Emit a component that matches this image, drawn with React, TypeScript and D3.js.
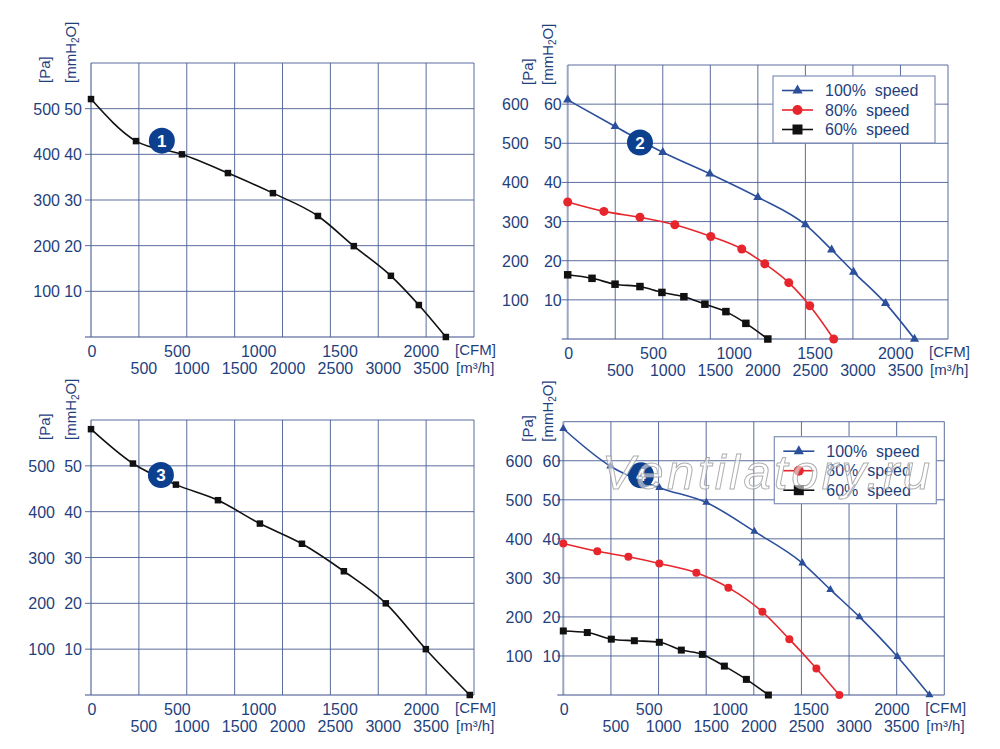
import React from "react";
import * as d3 from "d3";

// flow gridlines are in m³/h, pressure in Pa
const flowGrid = [0, 500, 1000, 1500, 2000, 2500, 3000, 3500, 4000];
const m3hLabels = [500, 1000, 1500, 2000, 2500, 3000, 3500];
const cfmLabels = [0, 500, 1000, 1500, 2000];
const CFM_TO_M3H = 1.699;

// panel 1
const p1Flow = [0, 470, 950, 1430, 1900, 2370, 2745, 3132, 3424, 3706];
const p1Pa = [521, 429, 400, 359, 315, 265, 199, 134, 70, 0];

// panel 2
const p2Flow100 = [0, 500, 1000, 1495, 2000, 2500, 2776, 3007, 3343, 3648];
const p2Pa100 = [611, 543, 477, 422, 362, 292, 228, 171, 91, 0];
const p2Flow80 = [0, 381, 760, 1127, 1505, 1831, 2073, 2325, 2546, 2798];
const p2Pa80 = [350, 326, 311, 292, 262, 230, 192, 144, 85, 0];
const p2Flow60 = [0, 256, 498, 760, 991, 1222, 1443, 1664, 1874, 2105];
const p2Pa60 = [164, 155, 140, 134, 119, 108, 89, 70, 40, 0];

// panel 3
const p3Flow = [0, 438, 887, 1326, 1764, 2203, 2641, 3079, 3497, 3956];
const p3Pa = [580, 505, 459, 425, 374, 330, 270, 200, 100, 0];

// panel 4
const p4Flow100 = [0, 494, 1008, 1502, 2006, 2510, 2804, 3109, 3508, 3844];
const p4Pa100 = [682, 586, 531, 493, 419, 338, 270, 200, 98, 0];
const p4Flow80 = [0, 357, 683, 1008, 1397, 1733, 2090, 2373, 2657, 2898];
const p4Pa80 = [388, 368, 354, 337, 313, 275, 213, 143, 68, 0];
const p4Flow60 = [0, 252, 504, 746, 1008, 1239, 1460, 1691, 1922, 2153];
const p4Pa60 = [164, 160, 143, 139, 135, 115, 104, 74, 40, 0];

const legendLabels = ["100%  speed", "80%  speed", "60%  speed"];

const TEXT = "#1f3f7d";
const GRID = "#4a5d93";
const BLUE = "#2c4f9b";
const RED = "#e6262c";
const BLACK = "#111111";
const BADGE = "#0d3f8f";
const FONT = "'Liberation Sans', Arial, sans-serif";

type Marker = "triangle" | "circle" | "square";
type Series = { flow: number[]; pa: number[]; color: string; marker: Marker; size?: number };

type PanelProps = {
  left: number;
  right: number;
  top: number;
  bottom: number;
  yMax: number;
  series: Series[];
  badge: string;
  badgeAt: [number, number];
  legend?: { dx: number; dy: number };
  paGap: number;
  mmGap: number;
  axisTitleX: [number, number];
  watermark?: boolean;
};

function MarkerShape({ type, x, y, color, size = 7 }: { type: Marker; x: number; y: number; color: string; size?: number }) {
  if (type === "circle") return <circle cx={x} cy={y} r={size / 2} fill={color} />;
  if (type === "square")
    return <rect x={x - size / 2} y={y - size / 2} width={size} height={size} fill={color} />;
  const d = d3.symbol(d3.symbolTriangle, size * size * 0.45)() || "";
  return <path d={d} transform={`translate(${x},${y})`} fill={color} />;
}

function Panel(p: PanelProps) {
  const x = d3.scaleLinear().domain([0, 4000]).range([p.left, p.right]);
  const y = d3.scaleLinear().domain([0, p.yMax]).range([p.bottom, p.top]);
  const yGrid = d3.range(0, p.yMax + 1, 100);
  const yLabels = yGrid.filter((v) => v > 0 && v < p.yMax);

  const line = d3
    .line<[number, number]>()
    .x((d) => x(d[0]))
    .y((d) => y(d[1]))
    .curve(d3.curveMonotoneX);

  const [bx, by] = [x(p.badgeAt[0]), y(p.badgeAt[1])];

  return (
    <g fontFamily={FONT}>
      {/* grid */}
      {flowGrid.map((v) => (
        <line key={"v" + v} x1={x(v)} x2={x(v)} y1={p.top} y2={p.bottom} stroke={GRID} strokeWidth={v === 0 ? 2 : 1} strokeOpacity={v === 0 ? 0.55 : 0.9} />
      ))}
      {yGrid.map((v) => (
        <line key={"h" + v} x1={v === p.yMax ? p.left : p.left - 6} x2={p.right} y1={y(v)} y2={y(v)} stroke={GRID} strokeWidth={v === 0 ? 2 : 1} strokeOpacity={v === 0 ? 0.55 : 0.9} />
      ))}

      {/* y labels */}
      {yLabels.map((v) => (
        <g key={"yl" + v} fill={TEXT} fontSize={16}>
          <text x={p.left - p.paGap} y={y(v) + 6} textAnchor="end">{v}</text>
          <text x={p.left - p.mmGap} y={y(v) + 6} textAnchor="end">{v / 10}</text>
        </g>
      ))}

      {/* axis titles */}
      <text transform={`translate(${p.axisTitleX[0]},${p.top + 20}) rotate(-90)`} fill={TEXT} fontSize={15}>[Pa]</text>
      <text transform={`translate(${p.axisTitleX[1]},${p.top + 20}) rotate(-90)`} fill={TEXT} fontSize={15}>
        [mmH<tspan fontSize={10} dy={3}>2</tspan><tspan dy={-3}>O]</tspan>
      </text>

      {/* x labels */}
      {cfmLabels.map((v) => (
        <text key={"c" + v} x={x(v * CFM_TO_M3H) + (v === 0 ? 1 : 5)} y={p.bottom + 20} textAnchor="middle" fill={TEXT} fontSize={16}>{v}</text>
      ))}
      {m3hLabels.map((v) => (
        <text key={"m" + v} x={x(v) + 5} y={p.bottom + 37} textAnchor="middle" fill={TEXT} fontSize={16}>{v}</text>
      ))}
      <text x={p.right - 19} y={p.bottom + 18} fill={TEXT} fontSize={15}>[CFM]</text>
      <text x={p.right - 18} y={p.bottom + 36} fill={TEXT} fontSize={15}>[m³/h]</text>

      {/* curves */}
      {p.series.map((s, i) => {
        const pts = s.flow.map((f, j) => [f, s.pa[j]] as [number, number]);
        return (
          <g key={"s" + i}>
            <path d={line(pts) || ""} fill="none" stroke={s.color} strokeWidth={1.6} />
            {pts.map((d, j) => (
              <MarkerShape key={j} type={s.marker} x={x(d[0])} y={y(d[1])} color={s.color} size={s.size} />
            ))}
          </g>
        );
      })}

      {/* badge */}
      <circle cx={bx} cy={by} r={13} fill={BADGE} />
      <text x={bx} y={by + 6} textAnchor="middle" fill="#fff" fontSize={17} fontWeight="bold">{p.badge}</text>

      {/* legend */}
      {p.legend && (
        <g transform={`translate(${p.right - p.legend.dx},${p.top + p.legend.dy})`}>
          <rect x={0} y={0} width={162} height={67} fill="#fff" stroke="#8090b8" strokeWidth={1.2} />
          {p.series.map((s, i) => (
            <g key={"lg" + i} transform={`translate(0,${14.5 + i * 19.5})`}>
              <line x1={9} x2={40} y1={0} y2={0} stroke={s.color} strokeWidth={1.6} />
              <MarkerShape type={s.marker} x={24.5} y={0} color={s.color} size={10} />
              <text x={52} y={5.5} fill={TEXT} fontSize={16} style={{ whiteSpace: "pre" }}>{legendLabels[i]}</text>
            </g>
          ))}
        </g>
      )}

      {p.watermark && (
        <text x={602} y={489} fontSize={49} fontStyle="italic" textLength={328} fill="#ffffff" fillOpacity={0.55} stroke="#9a9a9a" strokeWidth={1} strokeOpacity={0.8}>
          Ventilatory.ru
        </text>
      )}
    </g>
  );
}

export default function App() {
  return (
    <svg width={1000} height={749} style={{ position: "absolute", left: 0, top: 0, background: "#fff" }}>
      <Panel
        left={91} right={474} top={63} bottom={337} yMax={600}
        series={[{ flow: p1Flow, pa: p1Pa, color: BLACK, marker: "square", size: 6.5 }]}
        badge="1" badgeAt={[740, 430]}
        paGap={31} mmGap={9} axisTitleX={[50, 76]}
      />
      <Panel
        left={567.7} right={948} top={65} bottom={339} yMax={700}
        series={[
          { flow: p2Flow100, pa: p2Pa100, color: BLUE, marker: "triangle", size: 9 },
          { flow: p2Flow80, pa: p2Pa80, color: RED, marker: "circle", size: 9 },
          { flow: p2Flow60, pa: p2Pa60, color: BLACK, marker: "square", size: 7.5 },
        ]}
        badge="2" badgeAt={[760, 502]}
        legend={{ dx: 175, dy: 11 }}
        paGap={39} mmGap={6} axisTitleX={[533, 553]}
      />
      <Panel
        left={91} right={474} top={420} bottom={695} yMax={600}
        series={[{ flow: p3Flow, pa: p3Pa, color: BLACK, marker: "square", size: 6.5 }]}
        badge="3" badgeAt={[730, 480]}
        paGap={36} mmGap={9} axisTitleX={[50, 76]}
      />
      <Panel
        left={563.3} right={944.3} top={421.7} bottom={695} yMax={700}
        series={[
          { flow: p4Flow100, pa: p4Pa100, color: BLUE, marker: "triangle", size: 8 },
          { flow: p4Flow80, pa: p4Pa80, color: RED, marker: "circle", size: 8 },
          { flow: p4Flow60, pa: p4Pa60, color: BLACK, marker: "square", size: 7 },
        ]}
        badge="4" badgeAt={[816, 563]}
        legend={{ dx: 170, dy: 15 }}
        paGap={31} mmGap={3} axisTitleX={[533, 553]}
        watermark
      />
    </svg>
  );
}
